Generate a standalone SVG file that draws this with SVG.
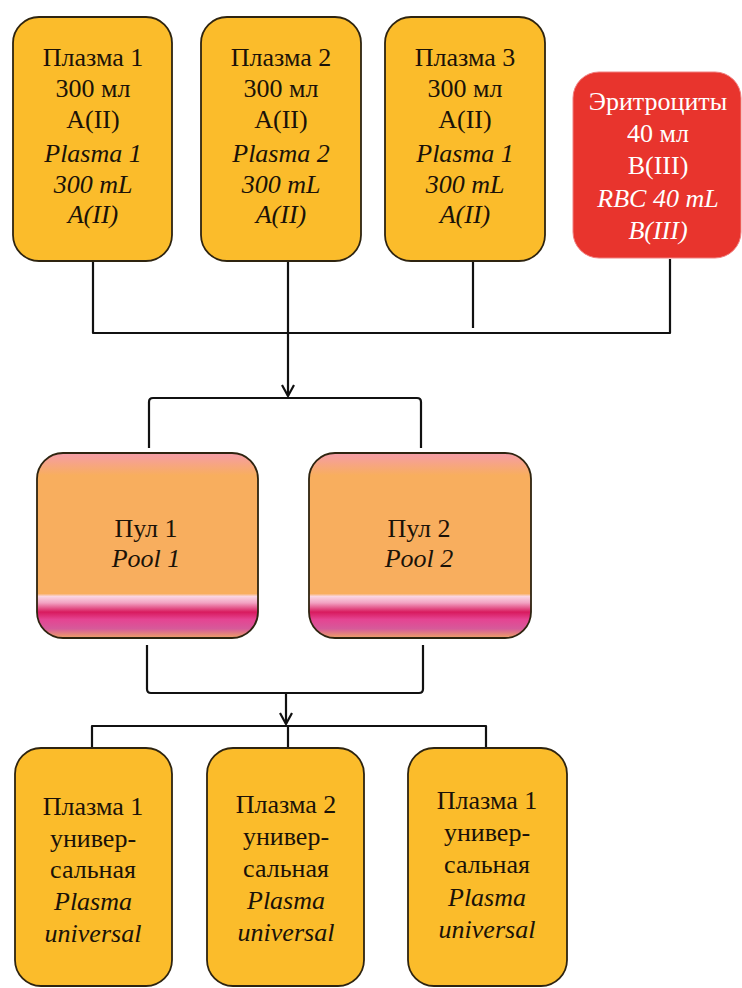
<svg xmlns="http://www.w3.org/2000/svg" width="742" height="988" viewBox="0 0 742 988">
<defs>
<style>
.box{fill:#fbbc2b;stroke:#2e2410;stroke-width:1.8}
.red{fill:#e8342d;stroke:#f08080;stroke-width:1}
.pool{fill:url(#pg);stroke:#2e2410;stroke-width:1.8}
.t{font-family:'Liberation Serif','DejaVu Serif',serif;font-size:26px;fill:#1a1208;text-anchor:middle}
.i{font-style:italic}
.w{fill:#ffffff}
.c{fill:none;stroke:#111;stroke-width:2.2;stroke-linejoin:round}
</style>
<linearGradient id="pg" x1="0" y1="0" x2="0" y2="1">
<stop offset="0" stop-color="#f59ca8"/>
<stop offset="0.12" stop-color="#f8ae5e"/>
<stop offset="0.76" stop-color="#f8ae5e"/>
<stop offset="0.775" stop-color="#fad6e2"/>
<stop offset="0.81" stop-color="#f2a2c2"/>
<stop offset="0.86" stop-color="#d81a5e"/>
<stop offset="0.9" stop-color="#e54492"/>
<stop offset="0.95" stop-color="#d65a9a"/>
<stop offset="1" stop-color="#f0a266"/>
</linearGradient>
<marker id="ah" markerWidth="14" markerHeight="14" refX="12" refY="7" orient="auto" markerUnits="userSpaceOnUse" viewBox="0 0 14 14">
<path d="M1,1 L12,7 L1,13" fill="none" stroke="#111" stroke-width="2.2"/>
</marker>
</defs>

<g id="connectors">
<path class="c" d="M93,261 V333 H670 V259"/>
<path class="c" d="M473,261 V328"/>
<path class="c" d="M288,261 V396" marker-end="url(#ah)"/>
<path class="c" d="M149,448 V402 Q149,398 153,398 H417 Q421,398 421,402 V448"/>
<path class="c" d="M147,645 V689 Q147,693 151,693 H419 Q423,693 423,689 V645"/>
<path class="c" d="M286,693 V724" marker-end="url(#ah)"/>
<path class="c" d="M92,748 V726 H486 V748"/>
<path class="c" d="M288,726 V748"/>
</g>

<g id="plasma1">
<rect class="box" x="13" y="17" width="159" height="244" rx="26"/>
<text class="t" x="93" y="66">Плазма 1</text>
<text class="t" x="93" y="97">300 мл</text>
<text class="t" x="93" y="128">A(II)</text>
<text class="t i" x="93" y="162">Plasma 1</text>
<text class="t i" x="93" y="193">300 mL</text>
<text class="t i" x="93" y="223">A(II)</text>
</g>

<g id="plasma2">
<rect class="box" x="201" y="17" width="160" height="244" rx="26"/>
<text class="t" x="281" y="66">Плазма 2</text>
<text class="t" x="281" y="97">300 мл</text>
<text class="t" x="281" y="128">A(II)</text>
<text class="t i" x="281" y="162">Plasma 2</text>
<text class="t i" x="281" y="193">300 mL</text>
<text class="t i" x="281" y="223">A(II)</text>
</g>

<g id="plasma3">
<rect class="box" x="385" y="17" width="160" height="244" rx="26"/>
<text class="t" x="465" y="66">Плазма 3</text>
<text class="t" x="465" y="97">300 мл</text>
<text class="t" x="465" y="128">A(II)</text>
<text class="t i" x="465" y="162">Plasma 1</text>
<text class="t i" x="465" y="193">300 mL</text>
<text class="t i" x="465" y="223">A(II)</text>
</g>

<g id="rbc">
<rect class="red" x="573" y="72" width="168" height="186" rx="26"/>
<text class="t w" x="658" y="110">Эритроциты</text>
<text class="t w" x="658" y="142">40 мл</text>
<text class="t w" x="658" y="174">B(III)</text>
<text class="t i w" x="658" y="207">RBC 40 mL</text>
<text class="t i w" x="658" y="239">B(III)</text>
</g>

<g id="pool1">
<rect class="pool" x="37" y="453" width="221" height="185" rx="26"/>
<text class="t" x="146" y="537">Пул 1</text>
<text class="t i" x="146" y="567">Pool 1</text>
</g>

<g id="pool2">
<rect class="pool" x="309" y="453" width="222" height="185" rx="26"/>
<text class="t" x="419" y="537">Пул 2</text>
<text class="t i" x="419" y="567">Pool 2</text>
</g>

<g id="universal1">
<rect class="box" x="15" y="748" width="157" height="238" rx="26"/>
<text class="t" x="93" y="815">Плазма 1</text>
<text class="t" x="93" y="847">универ-</text>
<text class="t" x="93" y="878">сальная</text>
<text class="t i" x="93" y="910">Plasma</text>
<text class="t i" x="93" y="942">universal</text>
</g>

<g id="universal2">
<rect class="box" x="207" y="748" width="157" height="238" rx="26"/>
<text class="t" x="286" y="813">Плазма 2</text>
<text class="t" x="286" y="845">универ-</text>
<text class="t" x="286" y="877">сальная</text>
<text class="t i" x="286" y="909">Plasma</text>
<text class="t i" x="286" y="941">universal</text>
</g>

<g id="universal3">
<rect class="box" x="408" y="748" width="159" height="238" rx="26"/>
<text class="t" x="487" y="809">Плазма 1</text>
<text class="t" x="487" y="841">универ-</text>
<text class="t" x="487" y="873">сальная</text>
<text class="t i" x="487" y="906">Plasma</text>
<text class="t i" x="487" y="938">universal</text>
</g>
</svg>
